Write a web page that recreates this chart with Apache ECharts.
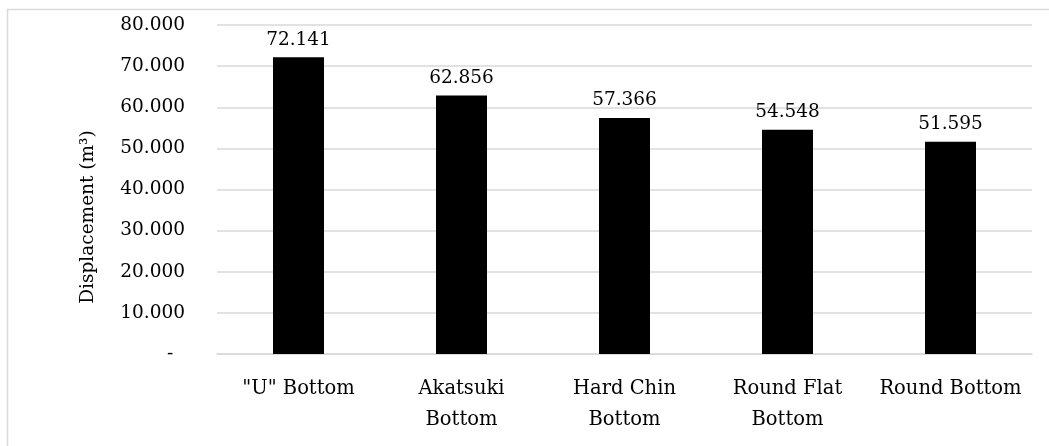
<!DOCTYPE html>
<html>
<head>
<meta charset="utf-8">
<script src="https://cdn.jsdelivr.net/npm/echarts@6/dist/echarts.min.js"></script>
<style>
  html, body { margin: 0; padding: 0; background: #fff; }
  #chart { width: 1049px; height: 446px; }
</style>
</head>
<body>
<div id="chart"></div>
<script>
// Hull form categories and their displacement values (m³)
const categories = ['"U" Bottom', 'Akatsuki\nBottom', 'Hard Chin\nBottom', 'Round Flat\nBottom', 'Round Bottom'];
const displacement = [72.141, 62.856, 57.366, 54.548, 51.595];
const axisTitle = 'Displacement (m\u00b3)';

const FONT = '"DejaVu Serif", "Liberation Serif", serif';
const chart = echarts.init(document.getElementById('chart'), null, { renderer: 'canvas' });

chart.setOption({
  animation: false,
  backgroundColor: '#fff',
  grid: { left: 217, right: 17, top: 25, bottom: 92, containLabel: false },
  graphic: [
    {
      type: 'rect',
      shape: { x: 7.5, y: 9.5, width: 1200, height: 600 },
      style: { fill: 'none', stroke: '#d9d9d9', lineWidth: 1.5 },
      silent: true, z: -1
    },
    {
      type: 'text',
      x: 88, y: 217,
      rotation: Math.PI / 2,
      style: {
        text: axisTitle,
        font: '18.5px ' + FONT,
        fill: '#000',
        textAlign: 'center',
        textVerticalAlign: 'middle'
      }
    }
  ],
  xAxis: {
    type: 'category',
    data: categories,
    axisLine: { show: true, lineStyle: { color: '#d9d9d9', width: 1.5 } },
    axisTick: { show: false },
    axisLabel: {
      color: '#000',
      fontFamily: FONT,
      fontSize: 19.5,
      lineHeight: 31,
      margin: 19,
      interval: 0
    }
  },
  yAxis: {
    type: 'value',
    min: 0,
    max: 80,
    interval: 10,
    axisLine: { show: false },
    axisTick: { show: false },
    splitLine: { lineStyle: { color: '#d9d9d9', width: 1.5 } },
    axisLabel: {
      color: '#000',
      fontFamily: FONT,
      fontSize: 18.5,
      margin: 32,
      formatter: v => v === 0 ? '-  ' : v.toFixed(3)
    }
  },
  series: [{
    type: 'bar',
    data: displacement,
    barWidth: 51,
    itemStyle: { color: '#000' },
    label: {
      show: true,
      position: 'top',
      distance: 8,
      color: '#000',
      fontFamily: FONT,
      fontSize: 18.5,
      formatter: p => p.value.toFixed(3)
    }
  }]
});
</script>
</body>
</html>
